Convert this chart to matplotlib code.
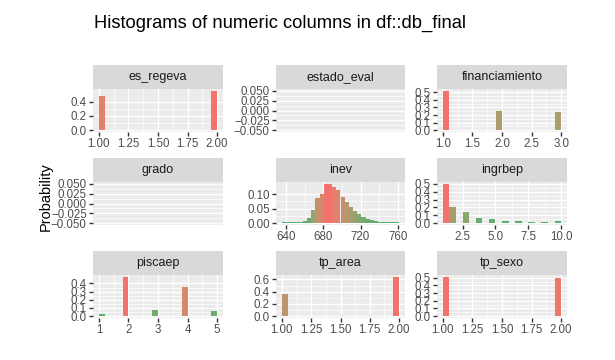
import matplotlib
matplotlib.use("Agg")
import matplotlib.pyplot as plt
import numpy as np
from matplotlib.ticker import FixedLocator

plt.rcParams['font.family'] = ['Liberation Sans', 'DejaVu Sans']

# ---------------- data ----------------
title = "Histograms of numeric columns in df::db_final"
y_label = "Probability"

panel_names = ["es_regeva", "estado_eval", "financiamiento",
               "grado", "inev", "ingrbep",
               "piscaep", "tp_area", "tp_sexo"]

es_regeva_left = [1.00, 1.95]
es_regeva_right = [1.05, 2.00]
es_regeva_prob = [0.48, 0.555]

financiamiento_left = [1.0, 1.9, 2.9]
financiamiento_right = [1.1, 2.0, 3.0]
financiamiento_prob = [0.52, 0.25, 0.24]

inev_edges = [635.5, 640.0, 644.5, 649.0, 653.5, 658.0, 662.5, 667.0, 671.5,
              676.0, 680.5, 685.0, 689.5, 694.0, 698.5, 703.0, 707.5, 712.0,
              716.5, 721.0, 725.5, 730.0, 734.5, 739.0, 743.5, 748.0, 752.5,
              757.0, 761.5]
inev_prob = [0.002, 0.002, 0.003, 0.003, 0.005, 0.008, 0.018, 0.045, 0.085,
             0.100, 0.135, 0.135, 0.124, 0.114, 0.090, 0.072, 0.055, 0.042,
             0.031, 0.020, 0.015, 0.010, 0.007, 0.005, 0.003, 0.002, 0.002,
             0.002]

ingrbep_left = [1.0, 1.5, 2.5, 3.5, 4.5, 5.5, 6.5, 7.5, 8.5, 9.5]
ingrbep_right = [1.5, 2.0, 3.0, 4.0, 5.0, 6.0, 7.0, 8.0, 9.0, 10.0]
ingrbep_prob = [0.50, 0.21, 0.135, 0.06, 0.047, 0.03, 0.021, 0.013, 0.013, 0.021]

piscaep_left = [1.0, 1.8, 2.8, 3.8, 4.8]
piscaep_right = [1.2, 2.0, 3.0, 4.0, 5.0]
piscaep_prob = [0.03, 0.48, 0.08, 0.36, 0.06]

tp_area_left = [1.00, 1.95]
tp_area_right = [1.05, 2.00]
tp_area_prob = [0.36, 0.64]

tp_sexo_left = [1.00, 1.95]
tp_sexo_right = [1.05, 2.00]
tp_sexo_prob = [0.51, 0.49]

# tick values / labels
ticks_1_2 = [1.00, 1.25, 1.50, 1.75, 2.00]
labels_1_2 = ["1.00", "1.25", "1.50", "1.75", "2.00"]
ticks_fin = [1.0, 1.5, 2.0, 2.5, 3.0]
labels_fin = ["1.0", "1.5", "2.0", "2.5", "3.0"]
ticks_inev = [640, 680, 720, 760]
labels_inev = ["640", "680", "720", "760"]
ticks_ingr = [2.5, 5.0, 7.5, 10.0]
labels_ingr = ["2.5", "5.0", "7.5", "10.0"]
ticks_pisc = [1, 2, 3, 4, 5]
labels_pisc = ["1", "2", "3", "4", "5"]

yt_empty = [-0.050, -0.025, 0.000, 0.025, 0.050]
yl_empty = ["\u22120.050", "\u22120.025", "0.000", "0.025", "0.050"]
yt_02 = [0.0, 0.2, 0.4]
yl_02 = ["0.0", "0.2", "0.4"]
yt_05 = [0.0, 0.1, 0.2, 0.3, 0.4, 0.5]
yl_05 = ["0.0", "0.1", "0.2", "0.3", "0.4", "0.5"]
yt_04 = [0.0, 0.1, 0.2, 0.3, 0.4]
yl_04 = ["0.0", "0.1", "0.2", "0.3", "0.4"]
yt_inev = [0.00, 0.05, 0.10]
yl_inev = ["0.00", "0.05", "0.10"]
yt_06 = [0.0, 0.2, 0.4, 0.6]
yl_06 = ["0.0", "0.2", "0.4", "0.6"]

# ---------------- style ----------------
W, H = 615, 360
fig = plt.figure(figsize=(W / 100, H / 100), dpi=100)
fig.patch.set_facecolor("white")

low_hex = "#4AB26E"
high_hex = "#F3736C"
panel_bg = "#EBEBEB"
strip_bg = "#D9D9D9"
tick_col = "#4D4D4D"
tick_fs = 8.3

cols_px = [(93, 223), (276, 405), (437, 567)]
strip_tops = [65, 158, 251]
strip_h = 24
panel_h = 43


# --- Lab colour interpolation (like ggplot's gradient scale) ---
def hex2rgb(h):
    h = h.lstrip("#")
    return np.array([int(h[i:i + 2], 16) for i in (0, 2, 4)]) / 255.0


def srgb2lin(c):
    return np.where(c <= 0.04045, c / 12.92, ((c + 0.055) / 1.055) ** 2.4)


def lin2srgb(c):
    c = np.clip(c, 0, 1)
    return np.where(c <= 0.0031308, 12.92 * c, 1.055 * c ** (1 / 2.4) - 0.055)


M_rgb2xyz = np.array([[0.4124, 0.3576, 0.1805],
                      [0.2126, 0.7152, 0.0722],
                      [0.0193, 0.1192, 0.9505]])
WHITE = np.array([0.95047, 1.0, 1.08883])


def f_lab(t):
    d = 6 / 29
    return np.where(t > d ** 3, np.cbrt(t), t / (3 * d * d) + 4 / 29)


def finv_lab(t):
    d = 6 / 29
    return np.where(t > d, t ** 3, 3 * d * d * (t - 4 / 29))


def rgb2lab(rgb):
    xyz = M_rgb2xyz @ srgb2lin(rgb) / WHITE
    fx, fy, fz = f_lab(xyz)
    return np.array([116 * fy - 16, 500 * (fx - fy), 200 * (fy - fz)])


def lab2rgb(lab):
    L, a, b = lab
    fy = (L + 16) / 116
    fx = fy + a / 500
    fz = fy - b / 200
    xyz = np.array([finv_lab(fx), finv_lab(fy), finv_lab(fz)]) * WHITE
    return lin2srgb(np.linalg.solve(M_rgb2xyz, xyz))


LOW_LAB = rgb2lab(hex2rgb(low_hex))
HIGH_LAB = rgb2lab(hex2rgb(high_hex))


def grad_color(t):
    return tuple(lab2rgb(LOW_LAB * (1 - t) + HIGH_LAB * t))


def rect(x0, y0, x1, y1):
    return [x0 / W, 1 - y1 / H, (x1 - x0) / W, (y1 - y0) / H]


def minor_between(vals):
    v = sorted(vals)
    return [(a + b) / 2 for a, b in zip(v[:-1], v[1:])]


def make_panel(idx, name, lefts=None, rights=None, probs=None,
               xt=None, xl=None, yt=None, yl=None):
    r, c = divmod(idx, 3)
    x0, x1 = cols_px[c]
    st = strip_tops[r]
    sax = fig.add_axes(rect(x0, st, x1, st + strip_h))
    sax.set_facecolor(strip_bg)
    sax.set_xticks([]); sax.set_yticks([])
    for s in sax.spines.values():
        s.set_visible(False)
    sax.text(0.5, 0.5, name, ha="center", va="center", fontsize=9,
             color="#1A1A1A", transform=sax.transAxes)

    ax = fig.add_axes(rect(x0, st + strip_h, x1, st + strip_h + panel_h))
    ax.set_facecolor(panel_bg)
    for s in ax.spines.values():
        s.set_visible(False)
    ax.set_axisbelow(True)

    if probs is None:
        ax.set_ylim(-0.055, 0.055)
        ax.set_xlim(0, 1)
        ax.set_xticks([])
        ax.yaxis.set_major_locator(FixedLocator(yt))
        ax.set_yticklabels(yl)
        ax.yaxis.set_minor_locator(FixedLocator(minor_between(yt)))
        ax.grid(True, axis="y", which="major", color="white", lw=1.0)
        ax.grid(True, axis="y", which="minor", color="white", lw=0.5)
    else:
        M = max(probs)
        xmin, xmax = min(lefts), max(rights)
        pad = 0.05 * (xmax - xmin)
        ax.set_xlim(xmin - pad, xmax + pad)
        ax.set_ylim(-0.05 * M, 1.05 * M)
        colors = [grad_color(p / M) for p in probs]
        widths = [b - a for a, b in zip(lefts, rights)]
        ax.bar(lefts, probs, width=widths, align="edge", color=colors,
               edgecolor="none", linewidth=0, zorder=2)
        ax.xaxis.set_major_locator(FixedLocator(xt))
        ax.set_xticklabels(xl)
        ax.yaxis.set_major_locator(FixedLocator(yt))
        ax.set_yticklabels(yl)
        ax.xaxis.set_minor_locator(FixedLocator(minor_between(xt)))
        ax.yaxis.set_minor_locator(FixedLocator(minor_between(yt)))
        ax.grid(True, which="major", color="white", lw=1.0)
        ax.grid(True, which="minor", color="white", lw=0.5)
    ax.tick_params(which="major", length=3, width=1.0, color="#333333",
                   labelsize=tick_fs, labelcolor=tick_col, pad=1.5)
    ax.tick_params(which="minor", length=0)
    return ax


make_panel(0, panel_names[0], es_regeva_left, es_regeva_right, es_regeva_prob,
           ticks_1_2, labels_1_2, yt_02, yl_02)
make_panel(1, panel_names[1], yt=yt_empty, yl=yl_empty)
make_panel(2, panel_names[2], financiamiento_left, financiamiento_right,
           financiamiento_prob, ticks_fin, labels_fin, yt_05, yl_05)
make_panel(3, panel_names[3], yt=yt_empty, yl=yl_empty)
make_panel(4, panel_names[4], inev_edges[:-1], inev_edges[1:], inev_prob,
           ticks_inev, labels_inev, yt_inev, yl_inev)
make_panel(5, panel_names[5], ingrbep_left, ingrbep_right, ingrbep_prob,
           ticks_ingr, labels_ingr, yt_05, yl_05)
make_panel(6, panel_names[6], piscaep_left, piscaep_right, piscaep_prob,
           ticks_pisc, labels_pisc, yt_04, yl_04)
make_panel(7, panel_names[7], tp_area_left, tp_area_right, tp_area_prob,
           ticks_1_2, labels_1_2, yt_06, yl_06)
make_panel(8, panel_names[8], tp_sexo_left, tp_sexo_right, tp_sexo_prob,
           ticks_1_2, labels_1_2, yt_05, yl_05)

fig.text(94 / W, 1 - 23 / H, title, fontsize=13.2, ha="left", va="center",
         color="black")
fig.text(46 / W, 1 - 197 / H, y_label, fontsize=10.5, rotation=90,
         ha="center", va="center", color="black")

fig.savefig("out.png", dpi=100, facecolor="white")
